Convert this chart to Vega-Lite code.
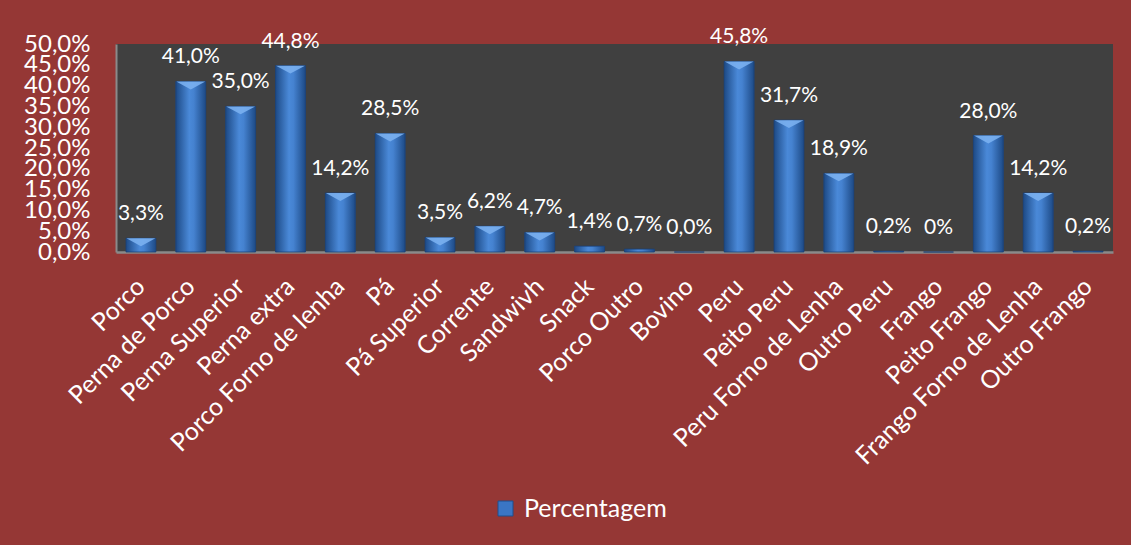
{
  "$schema": "https://vega.github.io/schema/vega-lite/v6.json",
  "width": 997,
  "height": 208,
  "autosize": {"type": "none"},
  "padding": {"left": 116, "top": 44, "right": 18, "bottom": 293},
  "background": "#953735",
  "config": {
    "font": "Lato",
    "view": {"fill": "#404040", "stroke": null},
    "axis": {"grid": false, "ticks": false, "labelColor": "white", "labelFont": "Lato"}
  },
  "data": {
    "values": [
      {"cat": "Porco", "value": 3.3, "label": "3,3%", "serie": "Percentagem"},
      {"cat": "Perna de Porco", "value": 41.0, "label": "41,0%", "serie": "Percentagem"},
      {"cat": "Perna Superior", "value": 35.0, "label": "35,0%", "serie": "Percentagem"},
      {"cat": "Perna extra", "value": 44.8, "label": "44,8%", "serie": "Percentagem"},
      {"cat": "Porco Forno de lenha", "value": 14.2, "label": "14,2%", "serie": "Percentagem"},
      {"cat": "Pá", "value": 28.5, "label": "28,5%", "serie": "Percentagem"},
      {"cat": "Pá Superior", "value": 3.5, "label": "3,5%", "serie": "Percentagem"},
      {"cat": "Corrente", "value": 6.2, "label": "6,2%", "serie": "Percentagem"},
      {"cat": "Sandwivh", "value": 4.7, "label": "4,7%", "serie": "Percentagem"},
      {"cat": "Snack", "value": 1.4, "label": "1,4%", "serie": "Percentagem"},
      {"cat": "Porco Outro", "value": 0.7, "label": "0,7%", "serie": "Percentagem"},
      {"cat": "Bovino", "value": 0.0, "label": "0,0%", "serie": "Percentagem"},
      {"cat": "Peru", "value": 45.8, "label": "45,8%", "serie": "Percentagem"},
      {"cat": "Peito Peru", "value": 31.7, "label": "31,7%", "serie": "Percentagem"},
      {"cat": "Peru Forno de Lenha", "value": 18.9, "label": "18,9%", "serie": "Percentagem"},
      {"cat": "Outro Peru", "value": 0.2, "label": "0,2%", "serie": "Percentagem"},
      {"cat": "Frango", "value": 0, "label": "0%", "serie": "Percentagem"},
      {"cat": "Peito Frango", "value": 28.0, "label": "28,0%", "serie": "Percentagem"},
      {"cat": "Frango Forno de Lenha", "value": 14.2, "label": "14,2%", "serie": "Percentagem"},
      {"cat": "Outro Frango", "value": 0.2, "label": "0,2%", "serie": "Percentagem"}
    ]
  },
  "encoding": {
    "x": {
      "field": "cat", "type": "nominal", "sort": null, "title": null,
      "scale": {"paddingInner": 0.4, "paddingOuter": 0.2},
      "axis": {
        "labelAngle": -45, "labelAlign": "right", "labelBaseline": "middle",
        "labelPadding": 30, "labelFontSize": 25, "labelLimit": 400, "labelOverlap": false,
        "domainColor": "#8a8a8a", "domainWidth": 2.5
      }
    },
    "y": {
      "field": "value", "type": "quantitative", "title": null,
      "scale": {"domain": [0, 50], "nice": false},
      "axis": {
        "values": [0, 5, 10, 15, 20, 25, 30, 35, 40, 45, 50],
        "labelExpr": "replace(format(datum.value, '.1f'), '.', ',') + '%'",
        "labelFontSize": 24, "labelPadding": 26, "labelBaseline": "middle",
        "labelOverlap": false, "labelBound": false, "labelFlush": false,
        "domainColor": "#8a8a8a", "domainWidth": 2
      }
    }
  },
  "layer": [
    {
      "mark": {"type": "bar"},
      "encoding": {
        "color": {
          "field": "serie", "type": "nominal",
          "scale": {"range": ["#3a75c4"]},
          "legend": {
            "title": null, "orient": "none", "legendX": 377, "legendY": 452,
            "symbolType": "square", "symbolSize": 225,
            "symbolStrokeColor": "#1f4e8c", "symbolStrokeWidth": 1,
            "labelFontSize": 25, "labelColor": "white", "labelFont": "Lato",
            "labelOffset": 6
          }
        }
      }
    },
    {
      "mark": {
        "type": "bar",
        "fill": {
          "gradient": "linear", "x1": 0, "x2": 1, "y1": 0, "y2": 0,
          "stops": [
            {"offset": 0, "color": "#1d4a86"},
            {"offset": 0.45, "color": "#4a89d8"},
            {"offset": 0.6, "color": "#4582d0"},
            {"offset": 1, "color": "#1d4a86"}
          ]
        },
        "stroke": "#1a3f73", "strokeWidth": 0.8
      }
    },
    {
      "transform": [{"filter": "datum.value >= 3"}],
      "mark": {
        "type": "point", "filled": true, "size": 840, "opacity": 0.9,
        "shape": "M-1,0L1,0L0,0.55Z", "color": "#7ab0f0", "strokeWidth": 0
      }
    },
    {
      "mark": {"type": "text", "baseline": "alphabetic", "dy": -18, "fontSize": 21, "color": "white"},
      "encoding": {"text": {"field": "label"}}
    }
  ]
}
